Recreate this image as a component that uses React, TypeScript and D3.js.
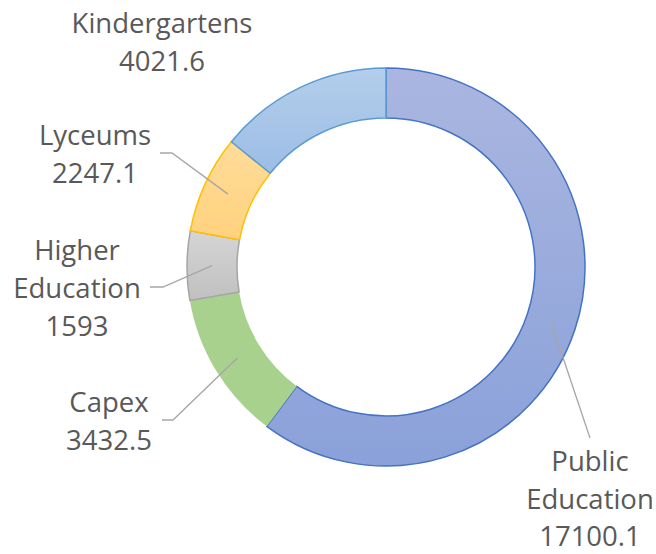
import React from "react";
import * as d3 from "d3";

const categories = ["Public Education", "Capex", "Higher Education", "Lyceums", "Kindergartens"];
const values = [17100.1, 3432.5, 1593, 2247.1, 4021.6];
const valueLabels = ["17100.1", "3432.5", "1593", "2247.1", "4021.6"];
const labelLines = [["Public", "Education"], ["Capex"], ["Higher", "Education"], ["Lyceums"], ["Kindergartens"]];

const fillTop = ["#AAB6E0", "#A9D18E", "#D5D5D5", "#FFDC9A", "#B4CEEB"];
const fillBottom = ["#8AA1D9", "#A9D18E", "#C0C0C0", "#FFD27E", "#9CBDE5"];
const strokes = ["#4472C4", "none", "#A5A5A5", "#FFC000", "#5B9BD5"];

// label layout: center x, first baseline y, leader polyline start (text side)
const labelLayout = [
  { x: 590, y: 471, leader: [[590, 438]] },
  { x: 109, y: 412, leader: [[162, 420], [173, 420]] },
  { x: 77, y: 260, leader: [[150, 287], [163, 287]] },
  { x: 95, y: 145, leader: [[160, 153], [172, 153]] },
  { x: 162, y: 33, leader: null as number[][] | null },
];

const W = 656, H = 554;
const cx = 386, cy = 267, rOuter = 199, rInner = 149;
const lineH = 38;

export default function App() {
  const pie = d3.pie<number>().sort(null).startAngle(0).endAngle(2 * Math.PI);
  const arcs = pie(values);
  const arc = d3.arc<d3.PieArcDatum<number>>().innerRadius(rInner).outerRadius(rOuter);
  const labelArc = d3.arc<d3.PieArcDatum<number>>().innerRadius((rInner + rOuter) / 2).outerRadius((rInner + rOuter) / 2);

  return (
    <svg width={W} height={H} style={{ position: "absolute", left: 0, top: 0, background: "#fff" }}>
      <defs>
        {categories.map((c, i) => (
          <linearGradient key={c} id={`g${i}`} x1="0" y1="0" x2="0" y2="1">
            <stop offset="0%" stopColor={fillTop[i]} />
            <stop offset="100%" stopColor={fillBottom[i]} />
          </linearGradient>
        ))}
      </defs>
      <rect width={W} height={H} fill="#fff" />
      <g transform={`translate(${cx},${cy})`}>
        {arcs.map((a, i) => (
          <path key={i} d={arc(a) || ""} fill={`url(#g${i})`} stroke={strokes[i]} strokeWidth={1.5} strokeLinejoin="round" />
        ))}
      </g>
      {arcs.map((a, i) => {
        const L = labelLayout[i];
        if (!L.leader) return null;
        const [px, py] = labelArc.centroid(a);
        const pts = [...L.leader, [cx + px, cy + py]];
        return (
          <polyline key={`l${i}`} points={pts.map((p) => p.join(",")).join(" ")} fill="none" stroke="#A6A6A6" strokeWidth={1.3} />
        );
      })}
      {categories.map((c, i) => {
        const L = labelLayout[i];
        const lines = [...labelLines[i], valueLabels[i]];
        return (
          <text key={`t${i}`} x={L.x} y={L.y} textAnchor="middle" fill="#595959" fontFamily="'Open Sans', Lato, sans-serif" fontSize={27.5}>
            {lines.map((ln, k) => (
              <tspan key={k} x={L.x} y={L.y + k * (i === 0 ? 37.5 : lineH)}>{ln}</tspan>
            ))}
          </text>
        );
      })}
    </svg>
  );
}
